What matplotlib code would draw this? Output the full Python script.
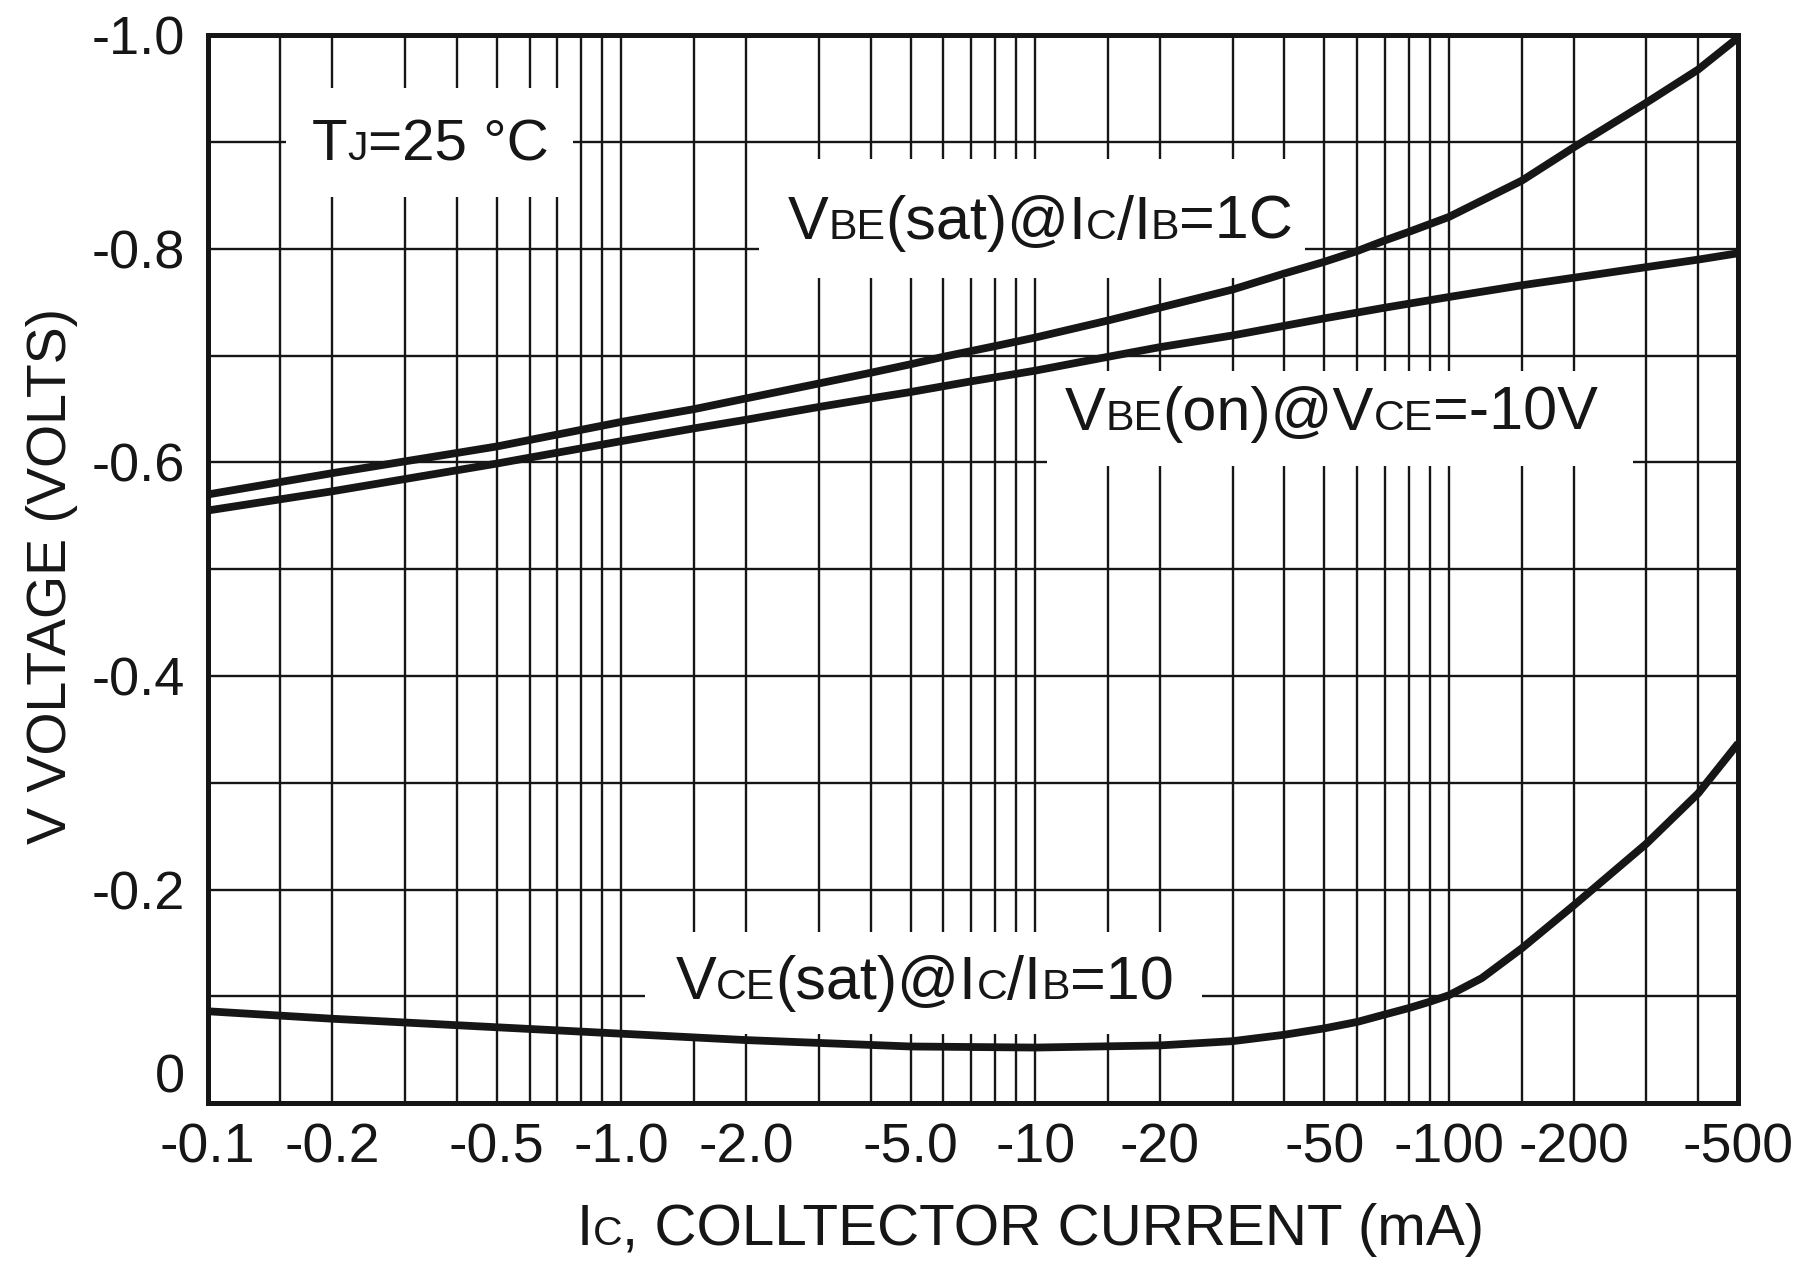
import matplotlib
matplotlib.use("Agg")
import matplotlib.pyplot as plt
from matplotlib.patches import Rectangle
from matplotlib.offsetbox import TextArea, HPacker, AnnotationBbox

plt.rcParams['font.family'] = ['Liberation Sans', 'DejaVu Sans']

# collector current magnitudes (mA) and voltages (V)
ic_vbe_sat = [0.1, 0.2, 0.5, 1.0, 1.5, 2.0, 3.0, 4.0, 5.0, 6.0, 8.0, 10, 15, 20, 30, 40,
              50, 60, 70, 80, 100, 150, 200, 300, 400, 500]
vbe_sat = [-0.570, -0.590, -0.615, -0.638, -0.650, -0.660, -0.674, -0.684, -0.692, -0.699,
           -0.709, -0.717, -0.733, -0.745, -0.762, -0.777, -0.788, -0.798, -0.808, -0.816,
           -0.830, -0.864, -0.895, -0.937, -0.968, -0.998]

ic_vbe_on = [0.1, 0.2, 0.5, 1.0, 1.5, 2.0, 3.0, 4.0, 5.0, 7.0, 10, 15, 20, 30, 40, 50,
             70, 100, 150, 200, 300, 400, 500]
vbe_on = [-0.555, -0.573, -0.599, -0.620, -0.632, -0.640, -0.652, -0.660, -0.666, -0.676,
          -0.686, -0.699, -0.708, -0.719, -0.728, -0.735, -0.745, -0.755, -0.766, -0.773,
          -0.783, -0.790, -0.796]

ic_vce_sat = [0.1, 0.2, 0.5, 1.0, 2.0, 5.0, 10, 20, 30, 40, 50, 60, 70, 80, 90, 100,
              120, 150, 200, 300, 400, 500]
vce_sat = [-0.086, -0.079, -0.071, -0.065, -0.059, -0.053, -0.052, -0.054, -0.058, -0.064,
           -0.070, -0.076, -0.083, -0.089, -0.095, -0.101, -0.117, -0.145, -0.185, -0.243,
           -0.290, -0.337]

x_tick_vals = [0.1, 0.2, 0.5, 1.0, 2.0, 5.0, 10, 20, 50, 100, 200, 500]
x_tick_labels = ['-0.1', '-0.2', '-0.5', '-1.0', '-2.0', '-5.0', '-10', '-20',
                 '-50', '-100', '-200', '-500']
y_tick_vals = [0, -0.2, -0.4, -0.6, -0.8, -1.0]
y_tick_labels = ['0', '-0.2', '-0.4', '-0.6', '-0.8', '-1.0']

# vertical grid: 1, 1.5, 2 ... 9 per decade
mults = [1, 1.5, 2, 3, 4, 5, 6, 7, 8, 9]
x_grid = [d * m for d in (0.1, 1, 10, 100) for m in mults if d * m <= 500]
y_grid = [-i / 10 for i in range(11)]

ink = '#161616'

fig = plt.figure(figsize=(18.05, 12.65), dpi=100, facecolor='white')
ax = fig.add_axes([0.115, 0.128, 0.848, 0.844])

ax.set_xscale('log')
ax.set_xlim(0.1, 500)
ax.set_ylim(0, -1.0)

ax.set_xticks(x_tick_vals)
ax.set_xticklabels(x_tick_labels)
ax.set_xticks(x_grid, minor=True)
ax.set_xticklabels([], minor=True)
ax.set_yticks(y_tick_vals)
ax.set_yticklabels(y_tick_labels)
ax.set_yticks(y_grid, minor=True)
ax.tick_params(which='both', length=0, labelcolor=ink)
ax.tick_params(axis='x', labelsize=40, pad=14)
ax.tick_params(axis='y', labelsize=39, pad=16)
# the "0" label sits a little above the bottom edge
ax.get_yticklabels()[0].set_va('bottom')

ax.set_axisbelow(True)
ax.grid(which='both', color=ink, lw=1.7)
for s in ax.spines.values():
    s.set_linewidth(3.6)
    s.set_color(ink)

# white knock-outs behind the labels
boxes = [(0.155, 0.764, -0.951, -0.849),
         (2.15, 45, -0.884, -0.773),
         (10.7, 278, -0.686, -0.597),
         (1.14, 25.3, -0.160, -0.065)]
for x0, x1, y0, y1 in boxes:
    ax.add_patch(Rectangle((x0, y0), x1 - x0, y1 - y0, facecolor='white',
                           edgecolor='none', zorder=1))

for xs, ys in [(ic_vbe_sat, vbe_sat), (ic_vbe_on, vbe_on), (ic_vce_sat, vce_sat)]:
    ax.plot(xs, ys, color=ink, lw=5.6, zorder=3, solid_joinstyle='round',
            solid_capstyle='butt', clip_on=False)


def mixed(parts, xy, size, coords='data'):
    kids = [TextArea(t, textprops=dict(fontsize=size * (0.7 if small else 1), color=ink))
            for t, small in parts]
    pack = HPacker(children=kids, align='baseline', pad=0, sep=0)
    ab = AnnotationBbox(pack, xy, xycoords=coords, frameon=False,
                        box_alignment=(0.5, 0.5), zorder=4)
    ax.add_artist(ab)


mixed([('T', 0), ('J', 1), ('=25 °C', 0)], (0.345, -0.897), 42)
mixed([('V', 0), ('BE', 1), ('(sat)@I', 0), ('C', 1), ('/I', 0), ('B', 1), ('=1C', 0)],
      (10.3, -0.824), 44)
mixed([('V', 0), ('BE', 1), ('(on)@V', 0), ('CE', 1), ('=-10V', 0)], (52, -0.645), 44)
mixed([('V', 0), ('CE', 1), ('(sat)@I', 0), ('C', 1), ('/I', 0), ('B', 1), ('=10', 0)],
      (5.4, -0.112), 44)

mixed([('I', 0), ('C', 1), (', COLLTECTOR CURRENT (mA)', 0)], (0.571, 0.028), 42,
      coords='figure fraction')
fig.text(0.029, 0.545, 'V VOLTAGE (VOLTS)', rotation=90, fontsize=40,
         ha='center', va='center', color=ink)

fig.savefig('out.png', dpi=100, facecolor='white')
